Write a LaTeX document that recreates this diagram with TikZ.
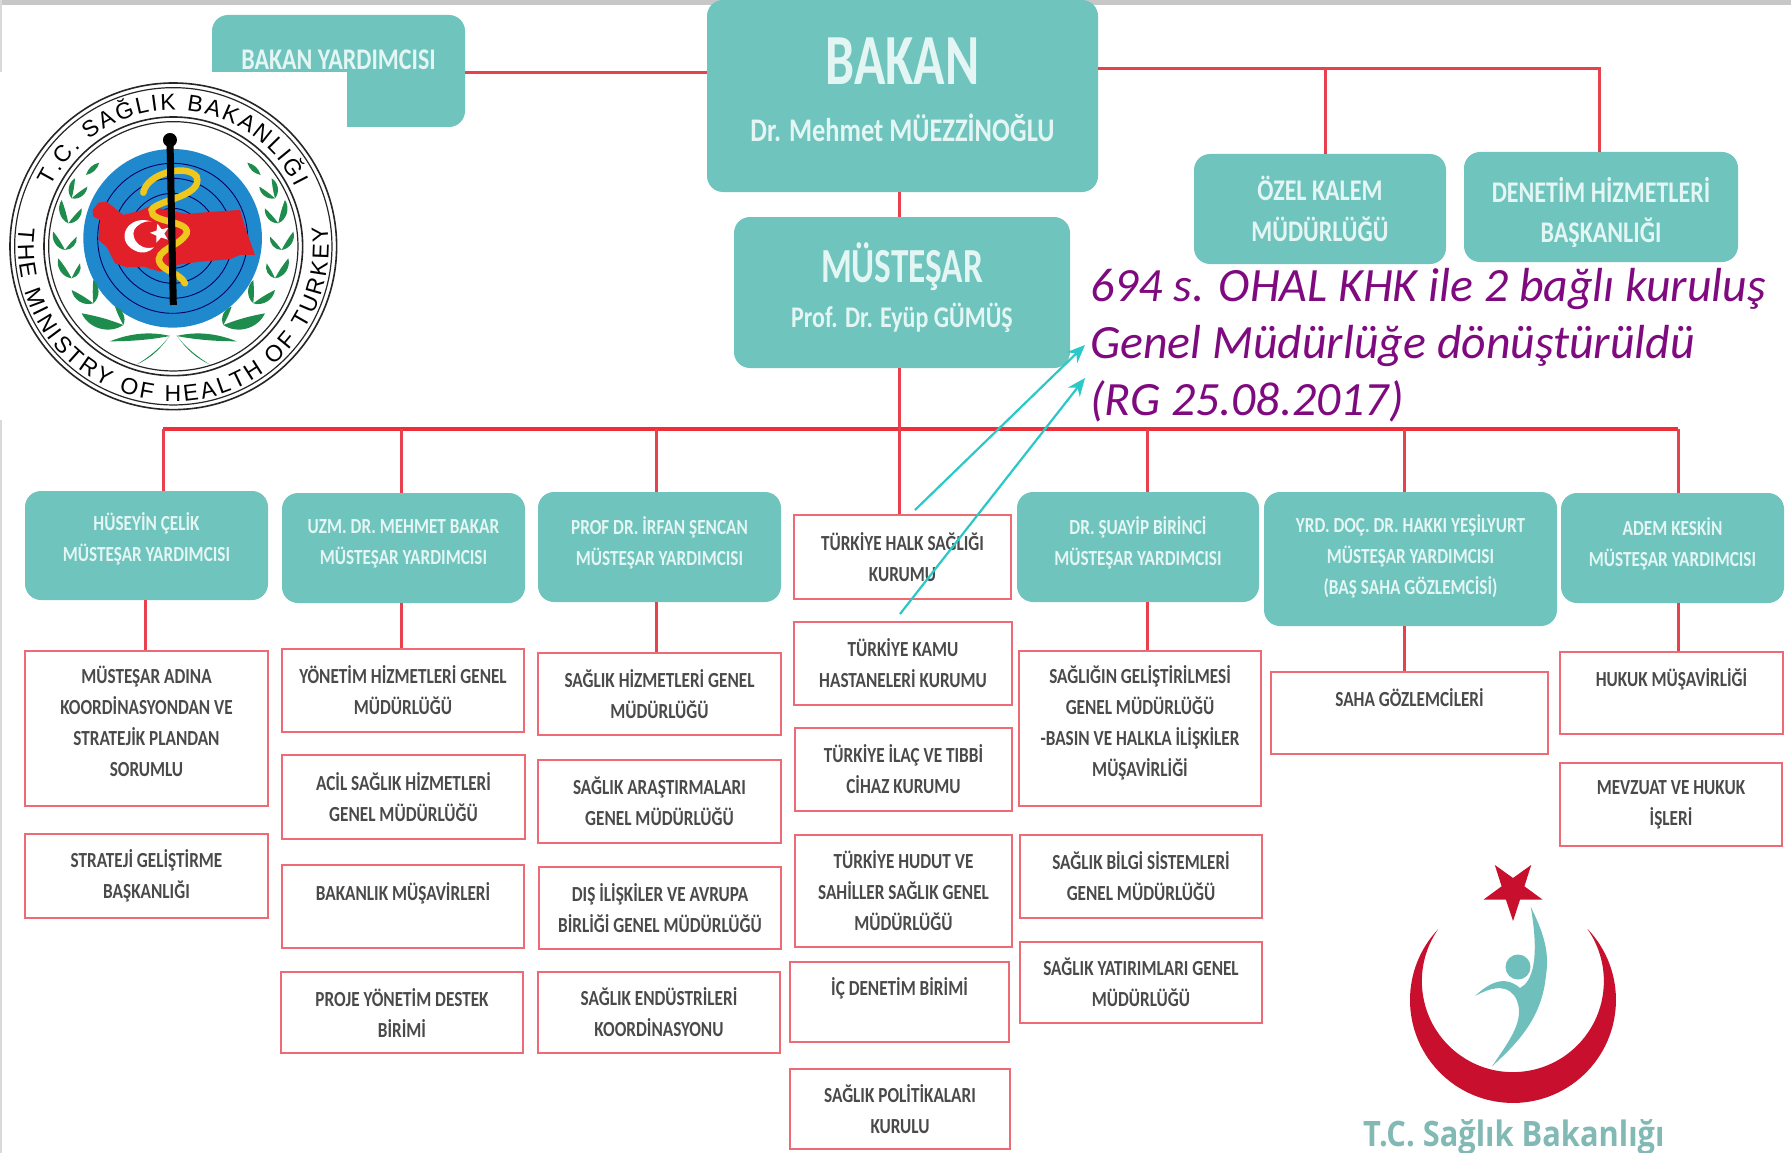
\documentclass[tikz,border=0pt]{standalone}
\usepackage{fontspec}
\setmainfont{Carlito}
\newfontfamily\narb[FakeStretch=0.80,UprightFont={* Bold}]{Carlito}
\newfontfamily\narbig[FakeStretch=0.72,UprightFont={* Bold}]{Carlito}
\newfontfamily\sealf{Liberation Sans}
\newfontfamily\logof[FakeStretch=0.88]{Open Sans}
\usetikzlibrary{arrows.meta,decorations.text,shapes.geometric}
\definecolor{tealbox}{HTML}{6FC4BE}
\definecolor{tealtxt}{HTML}{E4F6F3}
\definecolor{redln}{HTML}{E8414E}
\definecolor{redbox}{HTML}{EE6A75}
\definecolor{wtxt}{HTML}{4A4A4A}
\definecolor{cyanar}{HTML}{2CC7C7}
\definecolor{purp}{HTML}{7F0A80}
\definecolor{leafg}{HTML}{1E8C4C}
\definecolor{sealblue}{HTML}{2089CE}
\definecolor{sealred}{HTML}{E2202A}
\definecolor{snakey}{HTML}{EFC81E}
\definecolor{cresc}{HTML}{C8102E}
\definecolor{figt}{HTML}{6FC0BD}
\definecolor{logot}{HTML}{82B9B5}
\tikzset{
  tealnode/.style={fill=tealbox,rounded corners=16pt,inner sep=0pt,align=center,text=tealtxt},
  whitenode/.style={draw=redbox,line width=2.5pt,fill=white,inner sep=0pt,align=center,text=wtxt,
    font=\narb\fontsize{21.5}{31}\selectfont},
  smalltxt/.style={font=\narb\fontsize{21.5}{31}\selectfont,text depth=12pt},
  conn/.style={draw=redln,line width=3pt},
  bus/.style={draw=redln!70!red,line width=4.5pt},
  note/.style={draw=cyanar,line width=2.2pt,-{Stealth[length=18pt,width=15pt]}}
}
\newcommand{\tbx}[7][]{\node[tealnode,smalltxt,minimum width={(#5-#3)*1pt},minimum height={(#6-#4)*1pt},#1] (#2) at ({(#3+#5)/2},{(#4+#6)/2}) {#7};}
\newcommand{\wbx}[7][]{\node[whitenode,minimum width={(#5-#3)*1pt},minimum height={(#6-#4)*1pt},#1] (#2) at ({(#3+#5)/2},{(#4+#6)/2}) {#7};}
\begin{document}
\begin{tikzpicture}[x=1pt,y=-1pt]
\useasboundingbox (0,0) rectangle (1791,1153);
\fill[white] (0,0) rectangle (1791,1153);
\fill[black!22] (0,0) rectangle (1791,5);
\fill[black!15] (0,0) rectangle (2,1153);
% top boxes
\tbx[font=\narb\fontsize{30}{32}\selectfont,text depth=0pt]{yard}{212}{15}{465}{127}{\raisebox{22pt}{BAKAN YARDIMCISI}}
\node[tealnode,minimum width=391pt,minimum height=192pt] (bakan) at (902.5,96) {\raisebox{2pt}[0pt][0pt]{\begin{tabular}{c}{\narbig\fontsize{72}{72}\selectfont BAKAN}\\[26pt]{\narb\fontsize{33}{36}\selectfont Dr. Mehmet MÜEZZİNOĞLU}\end{tabular}}};
\node[tealnode,minimum width=336pt,minimum height=151pt] (must) at (902,292.5) {\raisebox{2pt}[0pt][0pt]{\begin{tabular}{c}{\narbig\fontsize{49}{50}\selectfont MÜSTEŞAR}\\[17pt]{\narb\fontsize{30}{32}\selectfont Prof. Dr. Eyüp GÜMÜŞ}\end{tabular}}};
\tbx[font=\narb\fontsize{30}{41}\selectfont,text depth=0pt]{ozel}{1194}{154}{1446}{264}{ÖZEL KALEM\\MÜDÜRLÜĞÜ}
\tbx[font=\narb\fontsize{30}{40}\selectfont,text depth=0pt]{denet}{1464}{152}{1738}{262}{\raisebox{19pt}{\begin{tabular}{@{}c@{}}DENETİM HİZMETLERİ\\BAŞKANLIĞI\end{tabular}}}
% deputy boxes
\tbx[text depth=16pt]{t1}{25}{491}{268}{600}{HÜSEYİN ÇELİK\\MÜSTEŞAR YARDIMCISI}
\tbx{t2}{282}{493}{525}{603}{UZM. DR. MEHMET BAKAR\\MÜSTEŞAR YARDIMCISI}
\tbx{t3}{538}{492}{781}{602}{PROF DR. İRFAN ŞENCAN\\MÜSTEŞAR YARDIMCISI}
\tbx{t5}{1017}{492}{1259}{602}{DR. ŞUAYİP BİRİNCİ\\MÜSTEŞAR YARDIMCISI}
\tbx[text depth=8pt]{t6}{1264}{492}{1557}{626}{YRD. DOÇ. DR. HAKKI YEŞİLYURT\\MÜSTEŞAR YARDIMCISI\\(BAŞ SAHA GÖZLEMCİSİ)}
\tbx{t7}{1561}{493}{1784}{603}{ADEM KESKİN\\MÜSTEŞAR YARDIMCISI}
% column 1
\wbx[text depth=14pt]{a1}{25}{651}{268}{806}{MÜSTEŞAR ADINA\\KOORDİNASYONDAN VE\\STRATEJİK PLANDAN\\SORUMLU}
\wbx{a2}{25}{834}{268}{918}{STRATEJİ GELİŞTİRME\\BAŞKANLIĞI}
% column 2
\wbx{b1}{282}{649}{524}{732}{YÖNETİM HİZMETLERİ GENEL\\MÜDÜRLÜĞÜ}
\wbx{b2}{282}{755}{525}{839}{ACİL SAĞLIK HİZMETLERİ\\GENEL MÜDÜRLÜĞÜ}
\wbx{b3}{282}{865}{524}{948}{BAKANLIK MÜŞAVİRLERİ\\~}
\wbx{b4}{281}{972}{523}{1053}{PROJE YÖNETİM DESTEK\\BİRİMİ}
% column 3
\wbx{c1}{538}{653}{781}{735}{SAĞLIK HİZMETLERİ GENEL\\MÜDÜRLÜĞÜ}
\wbx{c2}{538}{760}{781}{843}{SAĞLIK ARAŞTIRMALARI\\GENEL MÜDÜRLÜĞÜ}
\wbx{c3}{539}{867}{781}{949}{DIŞ İLİŞKİLER VE AVRUPA\\BİRLİĞİ GENEL MÜDÜRLÜĞÜ}
\wbx{c4}{538}{972}{780}{1053}{SAĞLIK ENDÜSTRİLERİ\\KOORDİNASYONU}
% column 4
\wbx{d1}{794}{515}{1011}{599}{TÜRKİYE HALK SAĞLIĞI\\KURUMU}
\wbx{d2}{794}{622}{1012}{705}{TÜRKİYE KAMU\\HASTANELERİ KURUMU}
\wbx{d3}{795}{728}{1012}{811}{TÜRKİYE İLAÇ VE TIBBİ\\CİHAZ KURUMU}
\wbx{d4}{795}{835}{1012}{947}{TÜRKİYE HUDUT VE\\SAHİLLER SAĞLIK GENEL\\MÜDÜRLÜĞÜ}
\wbx{d5}{790}{962}{1009}{1042}{İÇ DENETİM BİRİMİ\\~}
\wbx{d6}{790}{1069}{1010}{1149}{SAĞLIK POLİTİKALARI\\KURULU}
% column 5
\wbx[text depth=14pt]{e1}{1019}{651}{1261}{806}{SAĞLIĞIN GELİŞTİRİLMESİ\\GENEL MÜDÜRLÜĞÜ\\-BASIN VE HALKLA İLİŞKİLER\\MÜŞAVİRLİĞİ}
\wbx{e2}{1020}{835}{1262}{918}{SAĞLIK BİLGİ SİSTEMLERİ\\GENEL MÜDÜRLÜĞÜ}
\wbx{e3}{1020}{942}{1262}{1023}{SAĞLIK YATIRIMLARI GENEL\\MÜDÜRLÜĞÜ}
% column 6, 7
\wbx{f1}{1271}{672}{1548}{754}{SAHA GÖZLEMCİLERİ\\~}
\wbx{g1}{1560}{652}{1783}{734}{HUKUK MÜŞAVİRLİĞİ\\~}
\wbx{g2}{1560}{763}{1782}{846}{MEVZUAT VE HUKUK\\İŞLERİ}
% connectors
\coordinate (busL) at (163,429);
\coordinate (busR) at (1678,429);
\coordinate (o1) at (1325,69);
\coordinate (o2) at (1599,69);
\coordinate (mx) at (899,0);
\draw[conn] (yard.east |- 0,73) -- (bakan.west |- 0,73);
\draw[conn] (bakan.east |- o1) -- (o2) -- (o2 |- denet.north);
\draw[conn] (o1) -- (o1 |- ozel.north);
\draw[conn] (bakan.south -| mx) -- (must.north -| mx);
\draw[bus] (busL) -- (busR);
\draw[conn] (must.south -| mx) -- (d1.north -| mx);
\draw[conn] (busL) -- (busL |- t1.north);
\foreach \nm/\xx in {t2/401,t3/656,t5/1147,t6/1404,t7/1678}{
  \draw[conn] (\xx,429) -- (\xx,0 |- \nm.north);
}
\draw[conn] (a1.north -| 145,0) -- (t1.south -| 145,0);
\draw[conn] (b1.north -| 401,0) -- (t2.south -| 401,0);
\draw[conn] (c1.north -| 656,0) -- (t3.south -| 656,0);
\draw[conn] (e1.north -| 1147,0) -- (t5.south -| 1147,0);
\draw[conn] (f1.north -| 1404,0) -- (t6.south -| 1404,0);
\draw[conn] (g1.north -| 1678,0) -- (t7.south -| 1678,0);
% note
\node[anchor=west,inner sep=0pt,align=left,text=purp,font=\itshape\fontsize{47.8}{57}\selectfont] (txt) at (1090,345) {694 s. OHAL KHK ile 2 bağlı kuruluş\\Genel Müdürlüğe dönüştürüldü\\(RG 25.08.2017)};
\coordinate (n1) at (915,510);
\coordinate (n2) at (900,614);
\coordinate (t1a) at (1085,345);
\coordinate (t2a) at (1085,378);
\draw[note] (n1) -- (t1a);
\draw[note] (n2) -- (t2a);
% seal
\fill[white] (0,72) rectangle (347,420);
\begin{scope}[x=0.3333pt,y=-0.3333pt]
 \draw[black!85,line width=1.6pt] (520,739) circle[radius=490];
 \draw[black!85,line width=1.2pt] (520,739) circle[radius=476];
 \draw[black!85,line width=1.6pt] (520,739) circle[radius=388];
 \draw[black!85,line width=1.2pt] (520,739) circle[radius=374];
 \fill[sealblue] (518,715) circle[radius=268];
 \foreach \r in {90,135,180,225}{\draw[black!60!blue,line width=0.9pt] (518,715) circle[radius=\r];}
 \fill[sealred] (278,630) -- (295,608) -- (320,605) -- (345,625) -- (370,645) -- (420,632) -- (450,618) -- (500,630) -- (560,642) -- (640,635) -- (720,630) -- (735,680) -- (765,765) -- (720,765) -- (690,778) -- (600,785) -- (530,795) -- (480,815) -- (430,800) -- (380,802) -- (345,790) -- (320,740) -- (295,720) -- (300,660) -- (280,650) -- cycle;
 \fill[white] (455,665) .. controls (385,640) and (340,720) .. (405,752) .. controls (430,764) and (450,755) .. (462,742) .. controls (410,755) and (385,700) .. (410,680) .. controls (425,665) and (445,662) .. (455,665) -- cycle;
 \node[star,star points=5,star point ratio=2.3,fill=white,inner sep=0pt,minimum size=20pt,rotate=15] (sstar) at (480,700) {};
 \draw[snakey,line width=6.5pt,line cap=round] (430,578) .. controls (440,520) and (560,490) .. (590,530) .. controls (610,590) and (470,600) .. (455,630) .. controls (450,670) and (570,660) .. (560,700) .. controls (540,740) and (460,750) .. (480,790) .. controls (495,815) and (540,820) .. (555,850);
 \draw[black,line width=7pt] (510,420) -- (520,915);
 \fill[black] (510,420) circle[radius=21];
 \foreach \m in {1,-1}{
  \begin{scope}[shift={(520,0)},xscale=\m]
   \fill[leafg] (-222,488) to[bend left=30] (-262,525) to[bend left=30] (-222,488);
   \foreach \vx/\vy/\ax/\ay/\bx/\by in {-305/595/-258/560/-295/535, -315/670/-275/625/-335/600, -325/750/-290/710/-360/695, -305/835/-280/790/-345/775, -240/910/-240/840/-305/870, -150/975/-175/920/-275/940}{
     \fill[leafg] (\vx,\vy) to[bend right=50] (\ax,\ay) to[bend right=5] (\vx,\vy);
     \fill[leafg] (\vx,\vy) to[bend left=50] (\bx,\by) to[bend left=5] (\vx,\vy);
   }
   \fill[leafg] (-190,1024) .. controls (-120,996) and (-60,996) .. (-10,1008) .. controls (-60,1018) and (-120,1024) .. (-190,1024) -- cycle;
   \fill[leafg] (-10,1006) .. controls (-40,1050) and (-70,1075) .. (-110,1094) .. controls (-65,1066) and (-30,1035) .. (-10,1006) -- cycle;
  \end{scope}
 }
 \path[decorate,decoration={text along path,text align=fit to path,
   text={|\sealf\fontsize{23}{23}\selectfont\color{black}|T.C. SAĞLIK  BAKANLIĞI}}]
   (520,739) ++(206:408) arc[start angle=206,end angle=334,radius=408];
 \path[decorate,decoration={text along path,text align=fit to path,
   text={|\sealf\fontsize{23}{23}\selectfont\color{black}|THE MINISTRY OF HEALTH OF TURKEY}}]
   (520,739) ++(187:466) arc[start angle=187,end angle=-7.5,radius=466];
\end{scope}
% logo
\fill[cresc] (1587.8,929.2) arc[start angle=-43.4,end angle=223.4,radius=103] arc[start angle=214.8,end angle=-34.8,radius=91] -- cycle;
\fill[cresc,shift={(1513,890)}] (90:31) -- (126:12) -- (162:31) -- (198:12) -- (234:31) -- (270:12) -- (306:31) -- (342:12) -- (18:31) -- (54:12) -- cycle;
\fill[figt] (1518,967) circle[radius=12.5];
\fill[figt] (1530.7,906.7) .. controls (1542,930) and (1550,950) .. (1546,975) .. controls (1542,1020) and (1515,1045) .. (1491.7,1066.7) .. controls (1510,1040) and (1525,1020) .. (1516.7,1000) .. controls (1510,985) and (1495,985) .. (1475,996) .. controls (1490,982) and (1505,975) .. (1520,988) .. controls (1532,982) and (1540,960) .. (1530.7,906.7) -- cycle;
\node[anchor=base west,inner sep=0pt,text=logot,font=\logof\bfseries\fontsize{35}{36}\selectfont] (lg) at (1363,1146) {T.C. Sağlık Bakanlığı};
\end{tikzpicture}
\end{document}
